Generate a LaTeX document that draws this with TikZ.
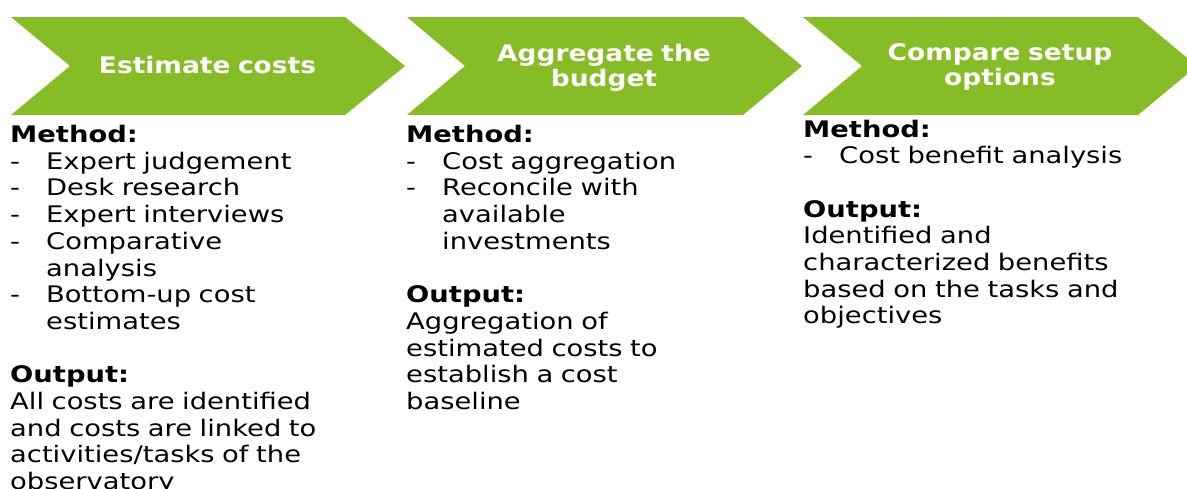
\documentclass[tikz,border=0pt]{standalone}
\usepackage{fontspec}
\setmainfont{DejaVu Sans}[FakeStretch=1.2]
\newfontfamily\titlefont{DejaVu Sans}[FakeStretch=1.16]
\definecolor{chevgreen}{HTML}{86BC25}
\tikzset{
  chevron/.style={fill=chevgreen, draw=none},
  title/.style={text=white, font={\titlefont\fontsize{22.8}{25}\selectfont\bfseries}, inner sep=0pt, anchor=base, text width=320pt, align=center},
  body/.style={text=black, font={\fontsize{22.8}{26.7}\selectfont}, inner sep=0pt, anchor=base west, text width=380pt, align=left}
}
\newcommand{\itm}[1]{\makebox[36pt][l]{-}#1}
\newcommand{\cont}[1]{\hspace*{36pt}#1}
\begin{document}
\begin{tikzpicture}[x=1pt,y=-1pt]
\useasboundingbox (0,0) rectangle (1187,488);
\clip (0,0) rectangle (1187,488);
\fill[chevron] (11,17) -- (345,17) -- (405,66) -- (345,115) -- (11,115) -- (70,66) -- cycle;
\fill[chevron] (407,17) -- (743,17) -- (802,66) -- (743,115) -- (407,115) -- (465,66) -- cycle;
\fill[chevron] (803,17) -- (1138,17) -- (1197,66) -- (1138,115) -- (803,115) -- (862,66) -- cycle;
\node[title] (t1) at (207.5,73.3) {Estimate costs};
\node[title] (t2) at (604,61) {Aggregate the\\budget};
\node[title] (t3) at (1000,60.5) {Compare setup\\options};
\node[body] (c1) at (10,142.5) {\textbf{Method:}\\
\itm{Expert judgement}\\
\itm{Desk research}\\
\itm{Expert interviews}\\
\itm{Comparative}\\
\cont{analysis}\\
\itm{Bottom-up cost}\\
\cont{estimates}\\
\mbox{}\\
\textbf{Output:}\\
All costs are identified\\
and costs are linked to\\
activities/tasks of the\\
observatory};
\node[body] (c2) at (406,142.5) {\textbf{Method:}\\
\itm{Cost aggregation}\\
\itm{Reconcile with}\\
\cont{available}\\
\cont{investments}\\
\mbox{}\\
\textbf{Output:}\\
Aggregation of\\
estimated costs to\\
establish a cost\\
baseline};
\node[body] (c3) at (803,137) {\textbf{Method:}\\
\itm{Cost benefit analysis}\\
\mbox{}\\
\textbf{Output:}\\
Identified and\\
characterized benefits\\
based on the tasks and\\
objectives};
\end{tikzpicture}
\end{document}
